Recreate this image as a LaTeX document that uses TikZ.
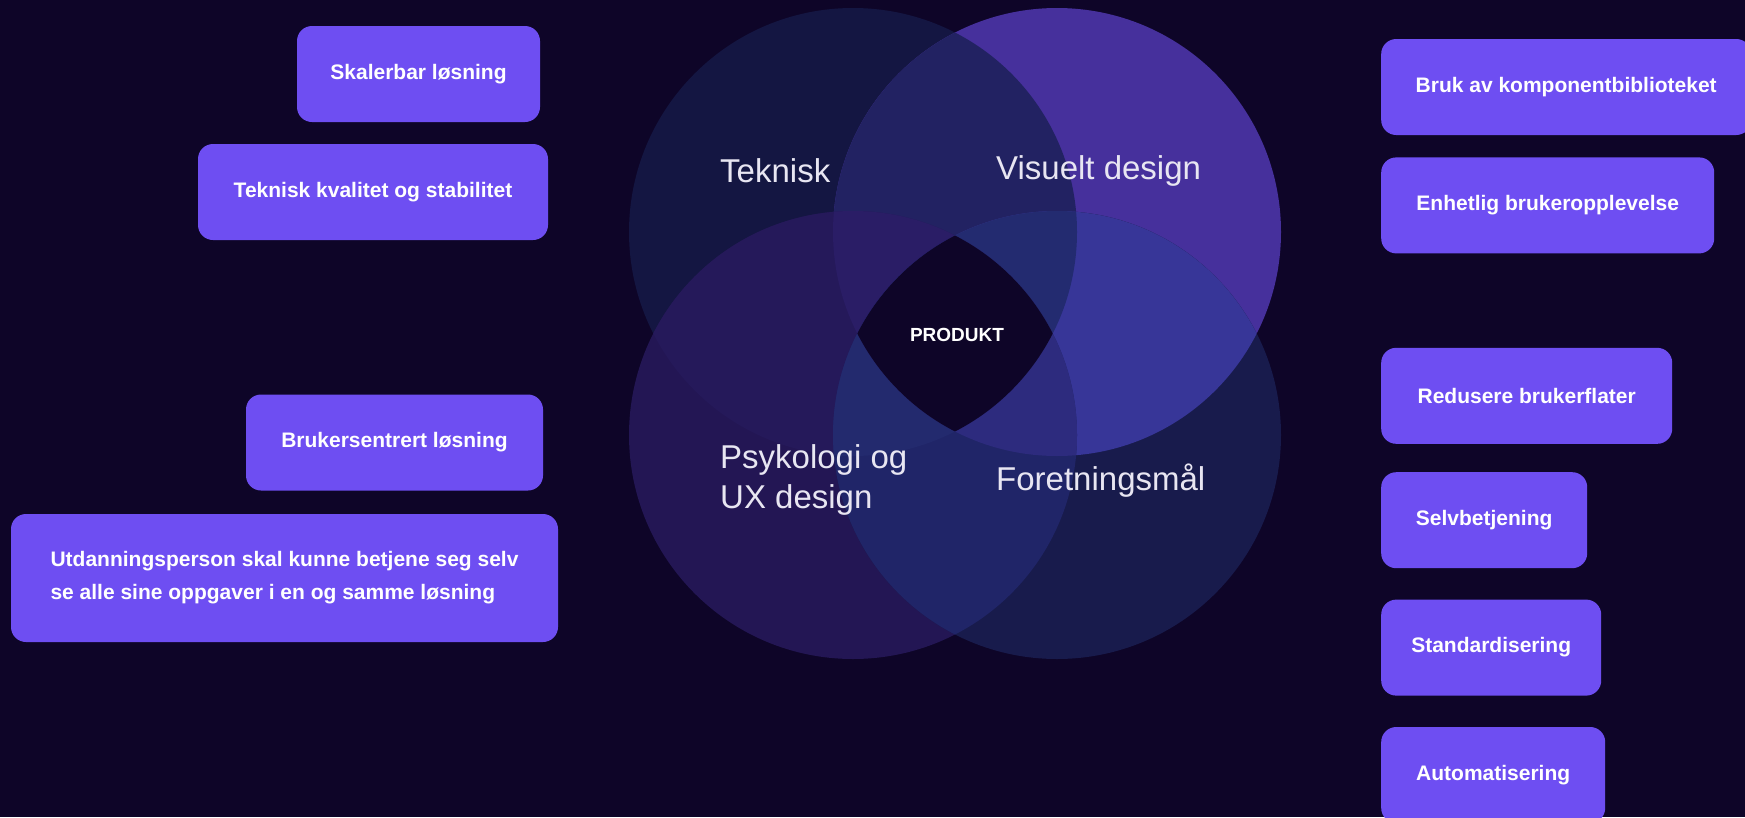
\documentclass[tikz,border=0pt]{standalone}
\usepackage{fontspec}
\setmainfont{Liberation Sans}
\usetikzlibrary{positioning}

\definecolor{bgdark}{RGB}{14,5,40}
\definecolor{boxpurple}{RGB}{110,78,242}
\definecolor{labelwhite}{RGB}{232,230,242}
\definecolor{tekc}{RGB}{20,22,66}
\definecolor{visc}{RGB}{70,48,156}
\definecolor{psyc}{RGB}{35,22,84}
\definecolor{forec}{RGB}{24,27,76}
\definecolor{tekvis}{RGB}{34,34,98}
\definecolor{tekpsy}{RGB}{37,25,90}
\definecolor{visfore}{RGB}{55,54,152}
\definecolor{psyfore}{RGB}{32,37,104}
\definecolor{tekvispsy}{RGB}{42,29,102}
\definecolor{tekvisfore}{RGB}{35,43,112}
\definecolor{tekpsyfore}{RGB}{35,42,110}
\definecolor{vispsyfore}{RGB}{45,43,126}

\newcommand{\vennr}{224pt}

\begin{document}
\begin{tikzpicture}[
    x=1pt, y=-1pt,
    box/.style={rectangle, fill=boxpurple, rounded corners=15pt, text=white, inner sep=0pt, minimum height=96pt, font={\fontsize{21}{33}\selectfont\bfseries}},
    area/.style={anchor=west, inner sep=0pt, align=left, text=labelwhite, font={\fontsize{33}{40}\selectfont}}
]

\useasboundingbox (0,0) rectangle (1745,817);
\fill[bgdark] (0,0) rectangle (1745,817);

\coordinate (tek) at (853,232);
\coordinate (vis) at (1057,232);
\coordinate (psy) at (853,435);
\coordinate (fore) at (1057,435);

\fill[tekc] (tek) circle[radius=\vennr];
\fill[visc] (vis) circle[radius=\vennr];
\fill[psyc] (psy) circle[radius=\vennr];
\fill[forec] (fore) circle[radius=\vennr];

\begin{scope}\clip (tek) circle[radius=\vennr]; \fill[tekvis] (vis) circle[radius=\vennr];\end{scope}
\begin{scope}\clip (tek) circle[radius=\vennr]; \fill[tekpsy] (psy) circle[radius=\vennr];\end{scope}
\begin{scope}\clip (vis) circle[radius=\vennr]; \fill[visfore] (fore) circle[radius=\vennr];\end{scope}
\begin{scope}\clip (psy) circle[radius=\vennr]; \fill[psyfore] (fore) circle[radius=\vennr];\end{scope}

\begin{scope}\clip (tek) circle[radius=\vennr]; \clip (vis) circle[radius=\vennr]; \fill[tekvispsy] (psy) circle[radius=\vennr];\end{scope}
\begin{scope}\clip (tek) circle[radius=\vennr]; \clip (vis) circle[radius=\vennr]; \fill[tekvisfore] (fore) circle[radius=\vennr];\end{scope}
\begin{scope}\clip (tek) circle[radius=\vennr]; \clip (psy) circle[radius=\vennr]; \fill[tekpsyfore] (fore) circle[radius=\vennr];\end{scope}
\begin{scope}\clip (vis) circle[radius=\vennr]; \clip (psy) circle[radius=\vennr]; \fill[vispsyfore] (fore) circle[radius=\vennr];\end{scope}

\begin{scope}\clip (tek) circle[radius=\vennr]; \clip (vis) circle[radius=\vennr]; \clip (psy) circle[radius=\vennr]; \fill[bgdark] (fore) circle[radius=\vennr];\end{scope}

\node[area] (teklbl) at (720,171) {Teknisk};
\node[area] (vislbl) at (996,171) {Visuelt design};
\node[area] (psylbl) at (720,480) {Psykologi og\\UX design};
\node[area] (forelbl) at (996,481) {Foretningsmål};
\node[text=white, font={\fontsize{19}{22}\selectfont\bfseries}] (prod) at (957,335) {PRODUKT};

\node[box, minimum width=243pt] (skal) at (418.5,74) {Skalerbar løsning};
\node[box, minimum width=350pt] (tekkval) at (373,192) {Teknisk kvalitet og stabilitet};
\node[box, minimum width=297pt] (brukers) at (394.5,442.5) {Brukersentrert løsning};
\node[box, minimum width=547pt, minimum height=128pt, align=left] (utd) at (284.5,578) {Utdanningsperson skal kunne betjene seg selv\\se alle sine oppgaver i en og samme løsning};

\node[box, minimum width=370pt, anchor=west] (komp) at (1381,87) {Bruk av komponentbiblioteket};
\node[box, minimum width=333pt, below=22pt of komp.south west, anchor=north west] (enh) {Enhetlig brukeropplevelse};
\node[box, minimum width=291pt, below=94pt of enh.south west, anchor=north west] (red) {Redusere brukerflater};
\node[box, minimum width=206pt, below=28pt of red.south west, anchor=north west] (selv) {Selvbetjening};
\node[box, minimum width=220pt, below=31pt of selv.south west, anchor=north west] (std) {Standardisering};
\node[box, minimum width=224pt, below=31pt of std.south west, anchor=north west] (auto) {Automatisering};

\end{tikzpicture}
\end{document}
